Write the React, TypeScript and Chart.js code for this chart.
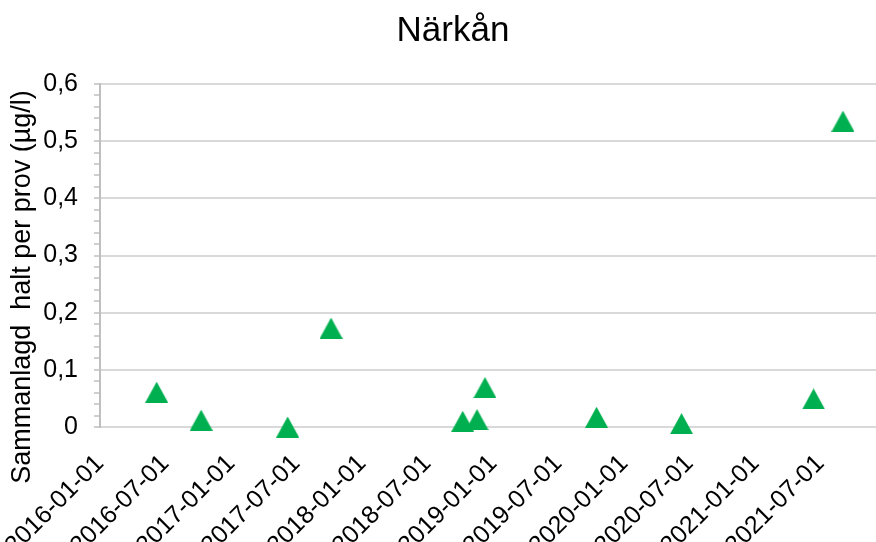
import React, { useEffect, useRef } from "react";
import { Chart, registerables } from "chart.js";

Chart.register(...registerables);

const title = "Närkån";
const yAxisTitle = "Sammanlagd  halt per prov (µg/l)";
const sampleDates = [
  "2016-06-07",
  "2016-10-09",
  "2017-06-07",
  "2017-10-06",
  "2018-10-08",
  "2018-11-17",
  "2018-12-09",
  "2019-10-16",
  "2020-06-09",
  "2021-06-12",
  "2021-09-02",
];
const sampleValues = [0.061, 0.012, 0.0, 0.173, 0.01, 0.013, 0.069, 0.017, 0.006, 0.049, 0.535];
const xTickLabels = [
  "2016-01-01",
  "2016-07-01",
  "2017-01-01",
  "2017-07-01",
  "2018-01-01",
  "2018-07-01",
  "2019-01-01",
  "2019-07-01",
  "2020-01-01",
  "2020-07-01",
  "2021-01-01",
  "2021-07-01",
];
const xMinDate = "2016-01-01";
const xMaxDate = "2021-12-03";
const yMin = 0;
const yMax = 0.6;

const toMs = (s: string) => Date.parse(s + "T00:00:00Z");
const pad2 = (n: number) => (n < 10 ? "0" + n : "" + n);
const fmt = (ms: number) => {
  const d = new Date(ms);
  return d.getUTCFullYear() + "-" + pad2(d.getUTCMonth() + 1) + "-" + pad2(d.getUTCDate());
};

const FONT = "'Liberation Sans', Arial, sans-serif";
const CW = 906;
const CH = 600;

function makeTriangle(): HTMLCanvasElement {
  const c = document.createElement("canvas");
  const w = 23;
  const h = 21;
  c.width = w;
  c.height = h;
  const g = c.getContext("2d")!;
  g.fillStyle = "#00b050";
  g.beginPath();
  g.moveTo(0, h);
  g.lineTo(w / 2, 0);
  g.lineTo(w, h);
  g.closePath();
  g.fill();
  return c;
}

// Draws the y-axis title centred on the full visible chart height (like the original)
const yTitlePlugin = {
  id: "yTitleFull",
  afterDraw(chart: any) {
    const ctx = chart.ctx as CanvasRenderingContext2D;
    ctx.save();
    ctx.translate(23, 287);
    ctx.rotate(-Math.PI / 2);
    ctx.font = "27px " + FONT;
    ctx.fillStyle = "#000";
    ctx.textAlign = "center";
    ctx.textBaseline = "middle";
    ctx.fillText(yAxisTitle, 0, 0);
    ctx.restore();
  },
};

export default function App() {
  const ref = useRef<HTMLCanvasElement | null>(null);

  useEffect(() => {
    document.body.style.margin = "0";
    document.body.style.overflow = "hidden";
    const canvas = ref.current;
    if (!canvas) return;
    const tri = makeTriangle();
    const data = sampleDates.map((d, i) => ({ x: toMs(d), y: sampleValues[i] }));
    const tickValues = xTickLabels.map(toMs);

    const chart = new Chart(canvas, {
      type: "scatter",
      data: {
        datasets: [
          {
            data,
            pointStyle: tri as any,
            pointRadius: 11,
            pointHoverRadius: 11,
            backgroundColor: "#00b050",
            borderColor: "#00b050",
            showLine: false,
            clip: false as any,
          },
        ],
      },
      plugins: [yTitlePlugin],
      options: {
        animation: false,
        responsive: false,
        maintainAspectRatio: false,
        devicePixelRatio: 1,
        layout: { padding: 0 },
        plugins: {
          legend: { display: false },
          tooltip: { enabled: false },
          title: {
            display: true,
            text: title,
            color: "#000",
            font: { family: FONT, size: 35, weight: "normal" },
            padding: { top: 10, bottom: 32 },
          },
        },
        scales: {
          x: {
            type: "linear",
            min: toMs(xMinDate),
            max: toMs(xMaxDate),
            afterBuildTicks: (scale: any) => {
              scale.ticks = tickValues.map((v) => ({ value: v }));
            },
            afterFit: (scale: any) => {
              scale.height = CH - 427;
              scale.paddingLeft = 0;
              scale.paddingRight = CW - 876;
            },
            grid: { display: false, drawTicks: false },
            border: { display: false },
            ticks: {
              autoSkip: false,
              minRotation: 45,
              maxRotation: 45,
              padding: 22,
              color: "#000",
              font: { family: FONT, size: 25 },
              callback: (v: any) => fmt(Number(v)),
            },
          },
          y: {
            type: "linear",
            min: yMin,
            max: yMax,
            afterFit: (scale: any) => {
              scale.width = 100;
              scale.paddingTop = 0;
              scale.paddingBottom = 0;
            },
            border: { display: true, color: "#bfbfbf", width: 2 },
            grid: {
              color: (ctx: any) => {
                const v = Math.round((ctx.tick?.value ?? 0) * 100);
                return v % 10 === 0 ? "#d9d9d9" : "rgba(0,0,0,0)";
              },
              lineWidth: 2,
              drawTicks: true,
              tickLength: 6,
              tickColor: "#bfbfbf",
              tickWidth: 1.5,
            },
            ticks: {
              stepSize: 0.02,
              autoSkip: false,
              padding: 16,
              color: "#000",
              font: { family: FONT, size: 25 },
              callback: (value: any) => {
                const v = Math.round(Number(value) * 100);
                if (v % 10 !== 0) return "";
                return String(v / 100).replace(".", ",");
              },
            },
            title: { display: false },
          },
        },
      },
    });
    return () => chart.destroy();
  }, []);

  return (
    <div style={{ width: 876, height: 542, overflow: "hidden", position: "relative" }}>
      <canvas ref={ref} width={CW} height={CH} style={{ display: "block" }} />
    </div>
  );
}
